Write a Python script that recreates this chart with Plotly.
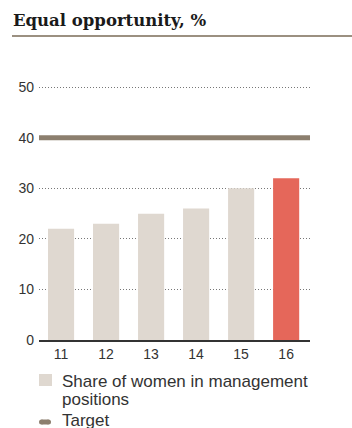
import plotly.graph_objects as go

years = ["11", "12", "13", "14", "15", "16"]
share_women = [22, 23, 25, 26, 30, 32]
target = 40
bar_colors = ["#dfd8d0", "#dfd8d0", "#dfd8d0", "#dfd8d0", "#dfd8d0", "#e5675a"]
y_ticks = [0, 10, 20, 30, 40, 50]
legend_bar_lines = ["Share of women in management", "positions"]
legend_target = "Target"

W, H = 352, 428
ml, mr, mt, mb = 39, 42, 62, 0
pw = W - ml - mr
ph = H - mt - mb
axis_bottom = 340  # pixel row of the x axis
BAR_C = "#dfd8d0"
TGT_C = "#8c7f6e"


def py(pix):
    """pixel row -> paper y"""
    return (H - mb - pix) / ph


def px(pix):
    return (pix - ml) / pw


fig = go.Figure()
fig.add_trace(go.Bar(
    x=years, y=share_women, marker=dict(color=bar_colors, line=dict(width=0)),
    name=" ".join(legend_bar_lines), showlegend=False, hoverinfo="skip",
))
fig.add_trace(go.Scatter(
    x=[0, 1.015], y=[target, target], xaxis="x2", mode="lines",
    line=dict(color=TGT_C, width=5), showlegend=False, cliponaxis=False,
    name=legend_target, hoverinfo="skip",
))

leg_font = dict(family="Liberation Sans, Arial, sans-serif", size=17, color="#333333")
annotations = [dict(
    text="<b>Equal opportunity, %</b>", xref="paper", yref="paper",
    x=px(11), y=py(20), xanchor="left", yanchor="middle",
    showarrow=False, font=dict(family="DejaVu Serif, serif", size=16.5, color="#1a1a1a"),
)]
for txt, yy in [(legend_bar_lines[0], 381), (legend_bar_lines[1], 399), (legend_target, 420.5)]:
    annotations.append(dict(
        text=txt, xref="paper", yref="paper", x=px(60), y=py(yy),
        xanchor="left", yanchor="middle", showarrow=False, font=leg_font,
    ))

shapes = [
    dict(type="line", xref="paper", yref="paper",
         x0=px(12), x1=px(W + 2), y0=py(36), y1=py(36),
         line=dict(color="#9b9081", width=2)),
    # legend swatch for bars
    dict(type="rect", xref="paper", yref="paper",
         x0=px(39), x1=px(52), y0=py(386), y1=py(374),
         fillcolor=BAR_C, line=dict(width=0)),
    # legend swatch for target (pill)
    dict(type="line", xref="paper", yref="paper",
         x0=px(41.5), x1=px(48.5), y0=py(422), y1=py(422),
         line=dict(color=TGT_C, width=5)),
    dict(type="circle", xref="paper", yref="paper",
         x0=px(39), x1=px(44), y0=py(424.5), y1=py(419.5),
         fillcolor=TGT_C, line=dict(width=0)),
    dict(type="circle", xref="paper", yref="paper",
         x0=px(46), x1=px(51), y0=py(424.5), y1=py(419.5),
         fillcolor=TGT_C, line=dict(width=0)),
]

fig.update_layout(
    width=W, height=H,
    margin=dict(l=ml, r=mr, t=mt, b=mb, autoexpand=False),
    paper_bgcolor="white", plot_bgcolor="white",
    bargap=0.42, showlegend=False,
    font=dict(family="Liberation Sans, Arial, sans-serif", size=14, color="#333333"),
    xaxis=dict(type="category", range=[-0.49, 5.53], showgrid=False,
               showline=True, linecolor="#333333", linewidth=2,
               ticks="", tickfont=dict(size=14, color="#333333"), fixedrange=True),
    xaxis2=dict(overlaying="x", range=[0, 1], visible=False),
    yaxis=dict(range=[0, 55], domain=[py(axis_bottom), 1], tickvals=y_ticks,
               showgrid=True, gridcolor="#777777", griddash="1px,2px", gridwidth=1,
               zeroline=False, showline=False, ticks="",
               tickfont=dict(size=14, color="#333333"), ticklabelstandoff=4),
    annotations=annotations,
    shapes=shapes,
)

fig.write_html("out.html")
